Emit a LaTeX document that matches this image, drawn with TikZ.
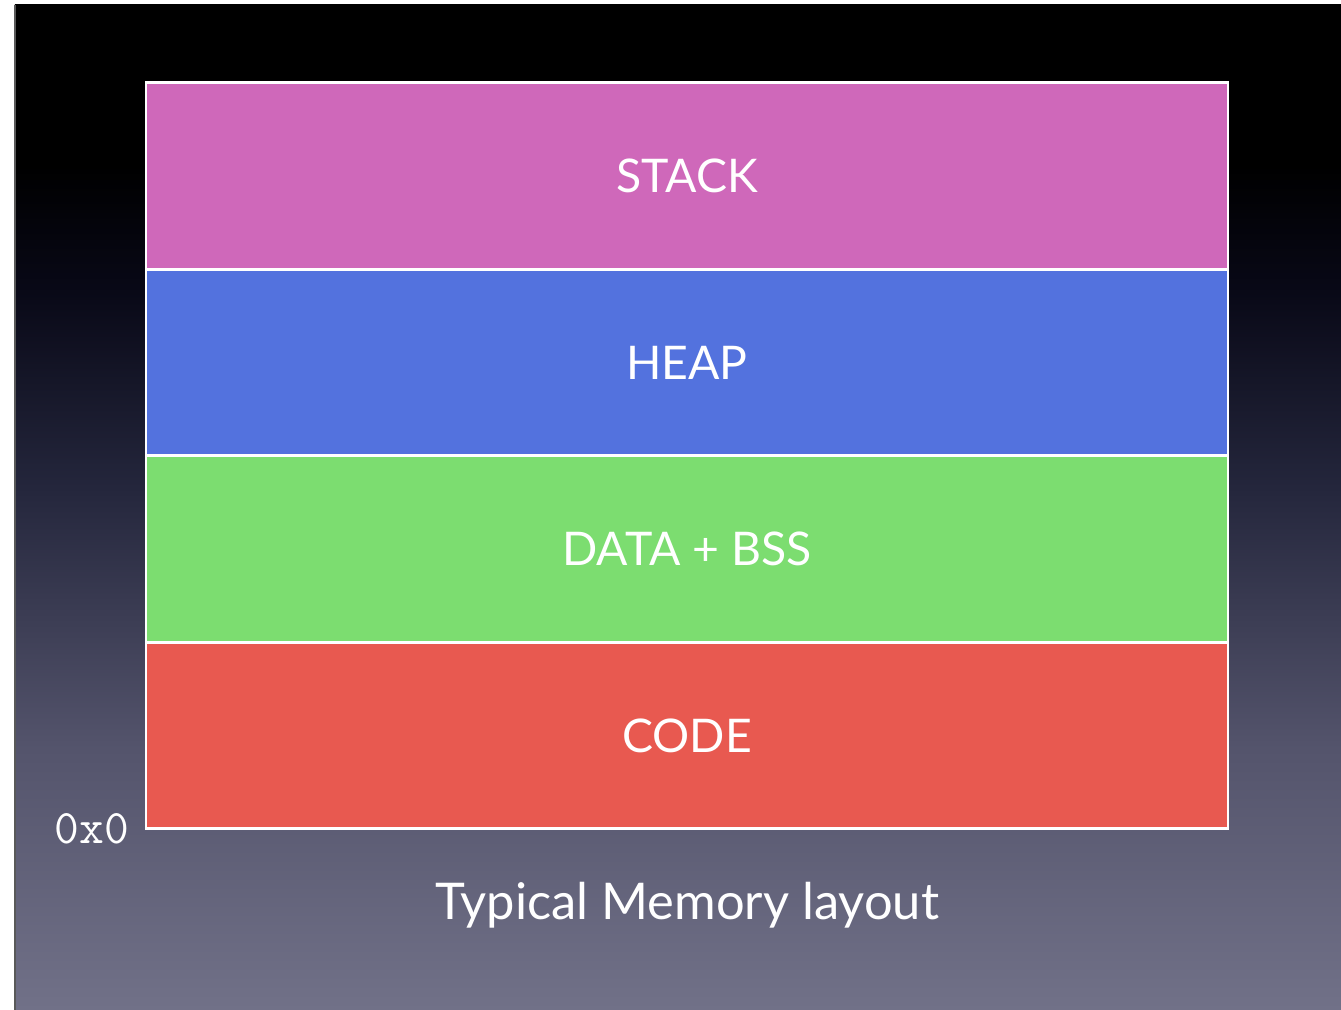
\documentclass[tikz,border=0pt]{standalone}
\usepackage{fontspec}
\setmainfont{Lato}
\usetikzlibrary{positioning}
\definecolor{stackpink}{RGB}{207,104,186}
\definecolor{heapblue}{RGB}{83,114,222}
\definecolor{datagreen}{RGB}{124,221,112}
\definecolor{codered}{RGB}{232,89,80}
\definecolor{bgbot}{RGB}{113,113,136}
\definecolor{bglow}{RGB}{84,84,108}
\definecolor{bgmid}{RGB}{36,38,60}
\definecolor{bghigh}{RGB}{8,8,22}
\pgfdeclareverticalshading{slidebg}{100bp}{color(0bp)=(bgbot); color(25bp)=(bgbot); color(38bp)=(bglow); color(51bp)=(bgmid); color(61bp)=(bghigh); color(67bp)=(black); color(100bp)=(black)}
\begin{document}
\begin{tikzpicture}[node distance=0pt,
        memblock/.style={rectangle, draw=white, line width=0.85pt, outer sep=0pt, minimum width=10.82cm, minimum height=1.865cm, text=white, font=\fontsize{13.2}{16}\selectfont},
        caption/.style={text=white, inner sep=0pt, font=\fontsize{14.4}{17}\selectfont},
        addr/.style={text=white, inner sep=0pt, font=\fontsize{13.7}{16}\ttfamily}]
        \useasboundingbox (0,0) rectangle (13.41,10.10);
        % slide background
        \fill[white] (0,0) rectangle (13.41,10.10);
        \shade[shading=slidebg] (0.15,0) rectangle (13.41,10.05);
        \draw[gray!70!black, line width=0.4pt] (0.15,0) -- (0.15,10.05);
        % memory segments
        \node[memblock, fill=stackpink] (stack) at (6.87,8.34) {STACK};
        \node[memblock, fill=heapblue, below=of stack] (heap) {HEAP};
        \node[memblock, fill=datagreen, below=of heap] (data) {DATA + BSS};
        \node[memblock, fill=codered, below=of data] (code) {CODE};
        \node[addr, anchor=east] (zero) at ([xshift=-0.16cm]code.south west) {0x0};
        \node[caption, anchor=base] (title) at ([yshift=-0.91cm]code.south) {Typical Memory layout};
\end{tikzpicture}
\end{document}
